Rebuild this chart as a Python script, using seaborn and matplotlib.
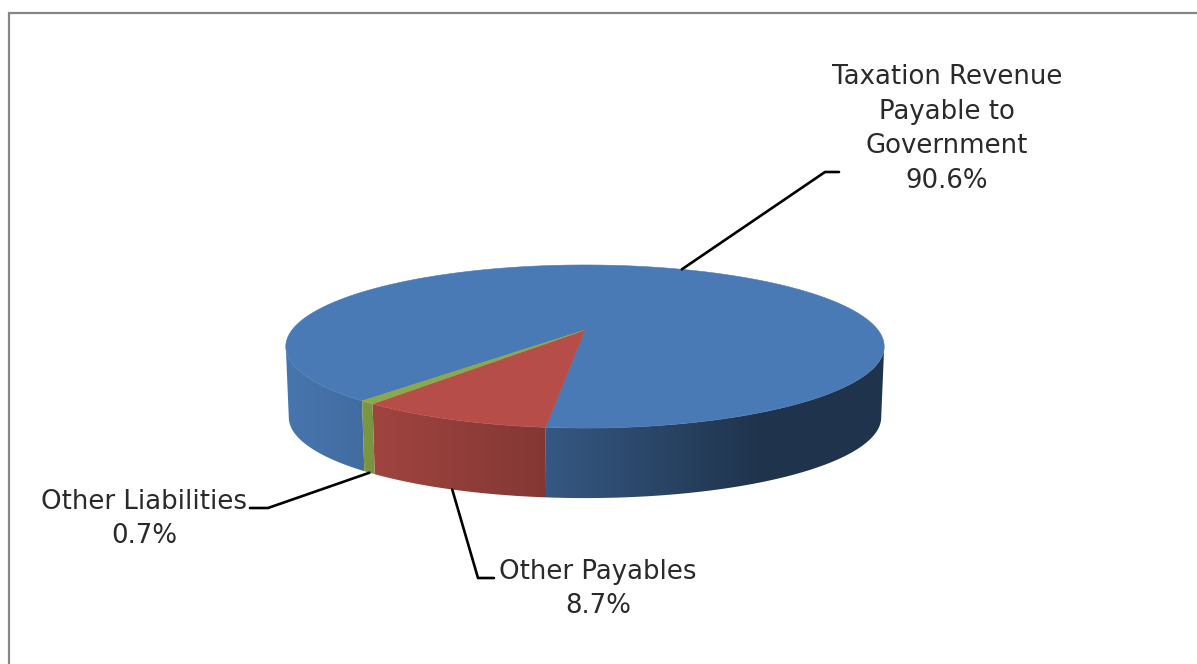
import numpy as np
import matplotlib
matplotlib.use('Agg')
import matplotlib.pyplot as plt
from matplotlib.patches import Polygon
from matplotlib.colors import to_rgb
import seaborn as sns

# chart data
labels = ['Taxation Revenue\nPayable to\nGovernment', 'Other Payables', 'Other Liabilities']
values = [90.6, 8.7, 0.7]
colors = ['#4a7ab5', '#b64d48', '#8aa84c']
start_angle = 40.0  # degrees clockwise from the front of the pie

# pie geometry, in pixels of the picture
cx, cy = 585, 330
rx, ry = 293, 78.2
persp = 0.2025
depth = 71
shrink = 0.99
front = np.degrees(np.arccos(persp))  # rim is hidden behind the top past this angle


def project(theta, bottom=False):
    # theta is clockwise from the front, tilted with a simple perspective
    t = np.radians(theta)
    px, py = -np.sin(t), -np.cos(t)
    w = 1 + persp * py
    x, y = rx * px / w, -ry * py / w
    if bottom:
        return cx + shrink * x, cy + shrink * y + depth
    return cx + x, cy + y


def shade(x):
    # side wall gets darker towards the right
    return np.interp(x, [286, 546, 760, 884], [0.96, 0.72, 0.42, 0.42])


def visible_parts(a0, a1):
    # the pieces of an arc that lie on the front of the pie
    parts = []
    for lo, hi in [(-front, front), (360 - front, 360 + front)]:
        if min(a1, hi) > max(a0, lo):
            parts.append((max(a0, lo), min(a1, hi)))
    return parts


sns.set_style('white')
plt.rcParams['font.family'] = ['DejaVu Sans']

fig, ax = plt.subplots(figsize=(11.97, 6.64), dpi=100)
ax.set_position([0, 0, 1, 1])
ax.axis('off')

# outer frame
ax.plot([8.5, 8.5, 1197], [664, 12.5, 12.5], color='#868686', lw=1.6, solid_joinstyle='miter')

# slice angles from the values
spans = np.array(values) / sum(values) * 360
starts = start_angle + np.concatenate([[0], np.cumsum(spans)[:-1]])

# side wall, a horizontal gradient clipped to each slice's rim
xs = np.arange(280, 890)
for start, span, color in zip(starts, spans, colors):
    for a0, a1 in visible_parts(start, start + span):
        angles = np.linspace(a0, a1, 120)
        wall = [project(a) for a in angles] + [project(a, True) for a in angles[::-1]]
        patch = Polygon(wall, closed=True, facecolor='none', edgecolor='none')
        ax.add_patch(patch)
        grad = np.outer(shade(xs), to_rgb(color))[np.newaxis, :, :]
        ax.imshow(grad, extent=(280, 890, 510, 330), aspect='auto', interpolation='bilinear',
                  clip_path=patch, zorder=2)

# top face
for start, span, color in zip(starts, spans, colors):
    angles = np.linspace(start, start + span, max(int(span * 2), 4))
    rim = [project(a) for a in angles]
    ax.fill(*zip(*([(cx, cy)] + rim)), facecolor=color, edgecolor=color, lw=0.4, zorder=3)

# leader lines go from the middle of each slice to the label
mids = starts + spans / 2
anchors = [project(mids[0]), project(mids[1], True), project(mids[2], True)]
elbows = [[(825, 172), (839, 172)], [(478, 578), (494, 578)], [(268, 508), (250, 508)]]
for anchor, elbow in zip(anchors, elbows):
    pts = [anchor] + elbow
    sns.lineplot(x=[p[0] for p in pts], y=[p[1] for p in pts], sort=False, estimator=None,
                 color='black', lw=1.9, ax=ax, zorder=4)

# labels
label_pos = [(947, 129), (598, 589), (144, 519)]
for label, value, (x, y) in zip(labels, values, label_pos):
    ax.text(x, y, f'{label}\n{value}%', ha='center', va='center', fontsize=18.7,
            color='#2a2a2a', linespacing=1.43, zorder=5)

ax.set_xlim(0, 1197)
ax.set_ylim(664, 0)
fig.savefig('out.png', dpi=100)
